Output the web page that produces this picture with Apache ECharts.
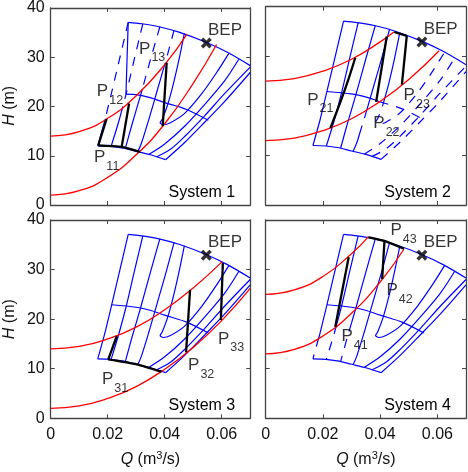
<!DOCTYPE html>
<html><head><meta charset="utf-8">
<script src="https://cdn.jsdelivr.net/npm/echarts@6/dist/echarts.min.js"></script>
<style>html,body{margin:0;padding:0;background:#fff}#c{width:468px;height:472px}</style>
</head><body><div id="c"></div>
<script>
// ---------- axes ----------
const xRange = [0, 0.07];
const xStep = 0.02;
const yRange = [0, 40];
const yStep = 10;
const panelTitles = ['System 1', 'System 2', 'System 3', 'System 4'];

// ---------- pump map (Q [m3/s], H [m]) ----------
const topEnvelope = [[0.0272,37.1],[0.032,36.8],[0.038,36.2],[0.045,35.1],[0.0547,33.0],[0.062,31.0],[0.070,28.3]];
const lowEnvelope = [[0.0165,12.0],[0.021,11.9],[0.025,11.6],[0.030,10.9],[0.035,10.2],[0.0403,9.2]];
const midCurve = [[0.0214,22.9],[0.030,22.4],[0.0349,21.8],[0.040,20.8],[0.0477,19.4],[0.0553,17.2]];
const midCurveSys1Start = [0.0264,22.5];
const sys1Divider = [[0.0272,37.1],[0.0264,22.5]];
const leftBoundary = [[0.0272,37.1],[0.0243,30.0],[0.0214,22.9],[0.0190,17.2],[0.0165,12.0]];
const effDLeft = [[0.0323,36.75],[0.0295,30.0],[0.0265,22.6],[0.0238,16.8],[0.0212,11.9]];
const effCLeft = [[0.0383,36.2],[0.0350,29.5],[0.0315,22.2],[0.0285,16.3],[0.0262,11.5]];
const effBLeft = [[0.0433,35.5],[0.0405,29.5],[0.0375,23.5],[0.0345,17.5],[0.0318,12.5],[0.0305,10.8]];
const effA = [[0.0469,34.85],[0.0450,29.5],[0.0430,24.5],[0.0410,20.3],[0.0392,17.5],[0.0384,16.7],[0.0395,16.3],[0.042,16.7],[0.047,18.6],[0.053,22.6],[0.058,26.7],[0.0625,30.8]];
const effBRight = [[0.0345,10.3],[0.040,12.4],[0.047,16.0],[0.054,20.4],[0.061,25.2],[0.066,29.6]];
const effCRight = [[0.0372,9.8],[0.042,11.3],[0.047,13.9],[0.054,18.1],[0.061,22.6],[0.070,28.0]];
const effDRight = [[0.0403,9.2],[0.047,12.7],[0.054,16.8],[0.061,21.0],[0.070,26.9]];

// ---------- system curves ----------
const sys1Upper = [[0,14],[0.01,14.9],[0.02,17.6],[0.03,22.2],[0.04,28.5],[0.0478,34.7]];
const sys1Lower = [[0,2],[0.01,2.9],[0.02,5.6],[0.03,10.2],[0.04,16.5],[0.05,24.7],[0.0582,32.6]];
const sys2Upper = [[0,25],[0.01,25.5],[0.02,27.0],[0.03,29.4],[0.04,32.9],[0.0448,34.9]];
const sys2Lower = [[0,13],[0.01,13.5],[0.02,15.0],[0.03,17.4],[0.04,20.9],[0.05,25.3],[0.0606,31.1]];
const sys3Upper = [[0,14],[0.01,14.5],[0.02,16.0],[0.03,18.4],[0.04,21.9],[0.05,26.3],[0.0602,31.6]];
const sys3Lower = [[0,2],[0.01,2.5],[0.02,4.0],[0.03,6.4],[0.04,9.9],[0.05,14.3],[0.06,19.7],[0.07,26.2]];
const sys4Upper = [[0,25],[0.01,25.9],[0.02,28.6],[0.03,33.2],[0.036,36.7]];
const sys4Lower = [[0,13],[0.01,13.9],[0.02,16.6],[0.03,21.2],[0.04,27.5],[0.0483,34.1]];

// ---------- operating paths ----------
const path1 = [[[0.0167,12.1],[0.0196,17.5]], [[0.0167,12.1],[0.0249,11.8],[0.0313,10.8]], [[0.0249,11.8],[0.0275,20.6]], [[0.0393,16.0],[0.0407,28.9]]];
const path2 = [[[0.0226,15.5],[0.0258,20.3],[0.0290,25.5],[0.0313,29.7]], [[0.0386,20.8],[0.0423,34.0]], [[0.0449,34.9],[0.0493,34.1]], [[0.0493,34.1],[0.0476,24.3]]];
const path3 = [[[0.0202,11.9],[0.0232,16.6]], [[0.0202,11.9],[0.0302,10.9],[0.0389,9.4]], [[0.0475,13.3],[0.0489,25.9]], [[0.0597,19.8],[0.0604,31.3]]];
const path4 = [[[0.0243,18.4],[0.0290,32.5]], [[0.0407,28.1],[0.0415,35.7]], [[0.0360,36.5],[0.0420,35.7],[0.0483,34.2]]];

// ---------- point labels [sub, Q, H] ----------
const labels1 = [['11',0.0152,9.6],['12',0.0162,23.0],['13',0.0310,31.7]];
const labels2 = [['21',0.0145,21.2],['22',0.0376,16.4],['23',0.0482,22.1]];
const labels3 = [['31',0.0180,7.9],['32',0.0482,10.6],['33',0.0587,16.0]];
const labels4 = [['41',0.0265,16.5],['42',0.0422,25.8],['43',0.0436,37.9]];
const bep = [0.0546, 32.9];
const bepText = [0.0552, 35.4];

// ---------- rendering ----------
const FONT = 'Liberation Sans, Arial, Helvetica, sans-serif';
const BLUE = '#0000ff', RED = '#ff0000', BLACK = '#000000', FRAME = '#444444';
const grids = [
  {left:50.7, top:6.7, width:199.5, height:198.3},
  {left:265.7, top:6.7, width:200.3, height:198.3},
  {left:50.7, top:220, width:199.5, height:198.3},
  {left:265.7, top:220, width:200.3, height:198.3}
];

function interp(curve, q) {
  if (q < curve[0][0]) return -Infinity;
  if (q > curve[curve.length-1][0]) return Infinity;
  for (let k = 1; k < curve.length; k++) {
    if (q <= curve[k][0]) {
      const a = curve[k-1], b = curve[k];
      const t = (q - a[0]) / (b[0] - a[0]);
      return a[1] + t * (b[1] - a[1]);
    }
  }
  return Infinity;
}
function lerp(a, b, t) { return [a[0] + (b[0]-a[0])*t, a[1] + (b[1]-a[1])*t]; }
function splitRuns(pts, pred) {
  const runs = [];
  let cur = [pts[0]], state = pred(pts[0]);
  for (let k = 1; k < pts.length; k++) {
    const p = pts[k], s = pred(p);
    if (s === state) { cur.push(p); continue; }
    const a = pts[k-1];
    let lo = 0, hi = 1;
    for (let it = 0; it < 30; it++) {
      const mid = (lo + hi) / 2;
      if (pred(lerp(a, p, mid)) === state) lo = mid; else hi = mid;
    }
    const c = lerp(a, p, (lo + hi) / 2);
    cur.push(c);
    runs.push({pts: cur, dashed: state});
    cur = [c, p]; state = s;
  }
  runs.push({pts: cur, dashed: state});
  return runs;
}

const dashedPred = [
  p => p[1] > interp(sys1Upper, p[0]),
  p => p[0] > 0.033 && p[1] < interp(sys2Lower, p[0]),
  p => false,
  p => p[0] < 0.03 && p[1] < interp(sys4Lower, p[0])
];
const sysCurves = [[sys1Upper, sys1Lower],[sys2Upper, sys2Lower],[sys3Upper, sys3Lower],[sys4Upper, sys4Lower]];
const paths = [path1, path2, path3, path4];
const labels = [labels1, labels2, labels3, labels4];

const xAxes = [], yAxes = [], series = [];
function axisCommon() {
  return {
    axisLine: {show:true, onZero:false, lineStyle:{color:FRAME, width:1.3}},
    axisTick: {show:true, inside:true, length:4, lineStyle:{color:FRAME, width:1}},
    splitLine: {show:false}
  };
}
grids.forEach((g, i) => {
  const showX = i >= 2, showY = i % 2 === 0;
  xAxes.push(Object.assign(axisCommon(), {
    type:'value', gridIndex:i, position:'bottom', min:xRange[0], max:xRange[1], interval:xStep,
    axisLabel:{show:showX, margin:8, color:'#111', fontSize:16, fontFamily:FONT, showMaxLabel:false,
      formatter: v => v === 0 ? '0' : v.toFixed(2)}
  }));
  xAxes.push(Object.assign(axisCommon(), {
    type:'value', gridIndex:i, position:'top', min:xRange[0], max:xRange[1], interval:xStep,
    axisLabel:{show:false}
  }));
  yAxes.push(Object.assign(axisCommon(), {
    type:'value', gridIndex:i, position:'left', min:yRange[0], max:yRange[1], interval:yStep,
    axisLabel:{show:showY, margin:6, color:'#111', fontSize:16, fontFamily:FONT}
  }));
  yAxes.push(Object.assign(axisCommon(), {
    type:'value', gridIndex:i, position:'right', min:yRange[0], max:yRange[1], interval:yStep,
    axisLabel:{show:false}
  }));
});

function line(i, pts, color, width, dashed, z, smooth) {
  return {
    type:'line', xAxisIndex:2*i, yAxisIndex:2*i, data:pts, symbol:'none', showSymbol:false,
    smooth: smooth === undefined ? 0.3 : smooth, silent:true, animation:false, z:z,
    lineStyle:{color:color, width:width, type: dashed ? [9,8] : 'solid', cap:'butt'}
  };
}

const contourLines = [leftBoundary, effDLeft, effCLeft, effBLeft, effA, effBRight, effCRight, effDRight];
for (let i = 0; i < 4; i++) {
  series.push(line(i, topEnvelope, BLUE, 1.2, false, 2));
  series.push(line(i, lowEnvelope, BLUE, 1.2, false, 2));
  if (i === 0) {
    series.push(line(i, sys1Divider, BLUE, 1.2, false, 2, false));
    series.push(line(i, [midCurveSys1Start].concat(midCurve.filter(p => p[0] > midCurveSys1Start[0])), BLUE, 1.2, false, 2));
  } else if (i === 1) {
    splitRuns(midCurve, dashedPred[i]).forEach(r => series.push(line(i, r.pts, BLUE, 1.2, r.dashed, 2)));
  } else {
    series.push(line(i, midCurve, BLUE, 1.2, false, 2));
  }
  contourLines.forEach(c => {
    splitRuns(c, dashedPred[i]).forEach(r => series.push(line(i, r.pts, BLUE, 1.2, r.dashed, 2)));
  });
  sysCurves[i].forEach(c => series.push(line(i, c, RED, 1.3, false, 3, 0.5)));
  paths[i].forEach(p => series.push(line(i, p, BLACK, 2.3, false, 4, 0.2)));
  series.push({
    type:'scatter', xAxisIndex:2*i, yAxisIndex:2*i, silent:true, animation:false, z:6,
    symbol:'path://M0,2.2L2.2,0L5,2.8L7.8,0L10,2.2L7.2,5L10,7.8L7.8,10L5,7.2L2.2,10L0,7.8L2.8,5Z',
    symbolSize:11, itemStyle:{color:BLACK}, data:[bep]
  });
  const labData = labels[i].map(l => ({value:[l[1], l[2]], sub:l[0]}));
  labData.push({value:bepText, sub:null});
  series.push({
    type:'scatter', xAxisIndex:2*i, yAxisIndex:2*i, silent:true, animation:false, z:7,
    symbolSize:0, itemStyle:{color:'transparent'}, data:labData,
    label:{show:true, position:'inside', align:'left', verticalAlign:'middle', color:'#000',
      fontSize:17, fontFamily:FONT,
      formatter: p => p.data.sub ? 'P{s|' + p.data.sub + '}' : 'BEP',
      rich:{s:{fontSize:12.5, fontFamily:FONT, color:'#000', padding:[18,0,0,1]}}}
  });
}

const graphic = [];
grids.forEach((g, i) => {
  graphic.push({type:'text', x:g.left + g.width - 15, y:g.top + g.height - 12.5, silent:true,
    style:{text:panelTitles[i], fontSize:16, fontFamily:FONT, fill:'#000', align:'right', verticalAlign:'middle'}});
});
[grids[0], grids[2]].forEach(g => {
  graphic.push({type:'text', x:10, y:g.top + g.height/2, rotation:Math.PI/2, silent:true,
    style:{text:'{i|H} (m)', fontSize:16, fontFamily:FONT, fill:'#111', align:'center', verticalAlign:'middle',
      rich:{i:{fontStyle:'italic', fontSize:16, fontFamily:FONT, fill:'#111'}}}});
});
[grids[2], grids[3]].forEach(g => {
  graphic.push({type:'text', x:g.left + g.width/2, y:460, silent:true,
    style:{text:'{i|Q} (m{sup|3}/s)', fontSize:16, fontFamily:FONT, fill:'#111', align:'center', verticalAlign:'middle',
      rich:{i:{fontStyle:'italic', fontSize:16, fontFamily:FONT, fill:'#111'}, sup:{fontSize:11, fontFamily:FONT, fill:'#111', padding:[0,0,9,0]}}}});
});

const chart = echarts.init(document.getElementById('c'), null, {renderer:'canvas'});
chart.setOption({
  animation:false,
  backgroundColor:'#ffffff',
  grid: grids,
  xAxis: xAxes,
  yAxis: yAxes,
  series: series,
  graphic: graphic
});
</script></body></html>
